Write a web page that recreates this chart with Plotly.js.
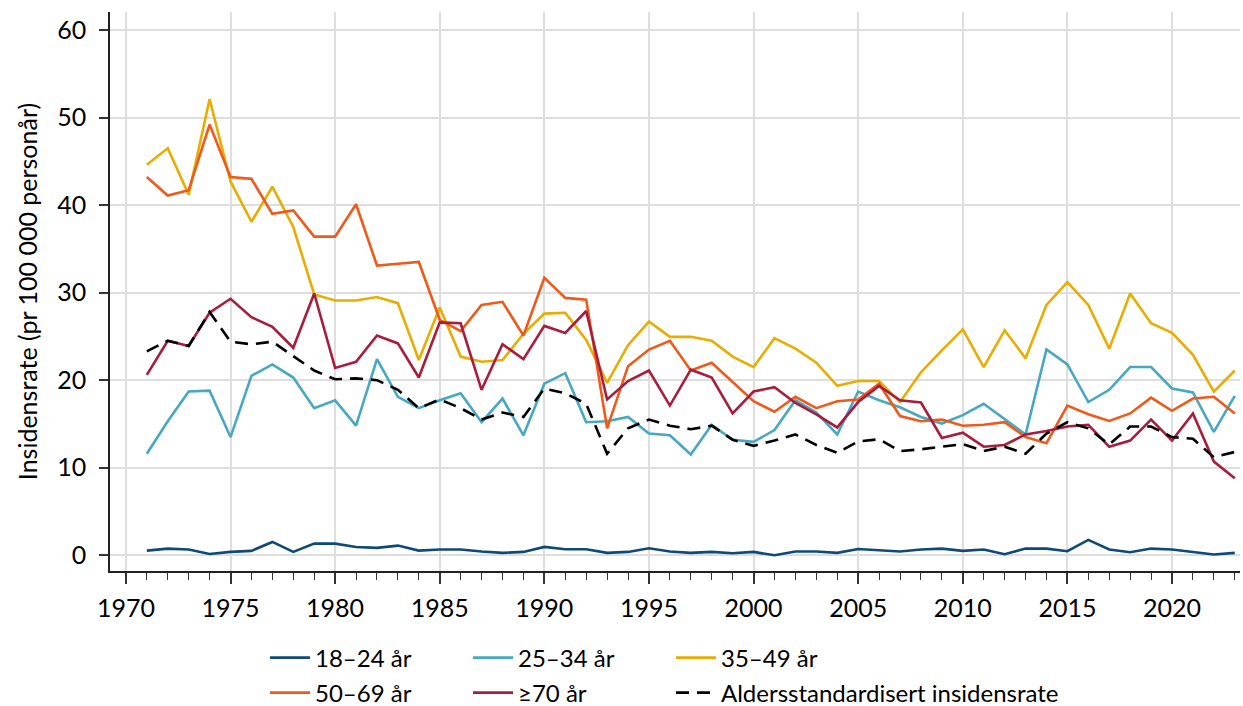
<!DOCTYPE html>
<html>
<head>
<meta charset="utf-8">
<script src="https://cdn.plot.ly/plotly-3.0.1.min.js"></script>
<style>html,body{margin:0;padding:0;background:#fff;}#chart{width:1243px;height:706px;}</style>
</head>
<body>
<div id="chart"></div>
<script>
const years = [];
for (let y = 1971; y <= 2023; y++) years.push(y);

const seriesNames = ["18–24 år", "25–34 år", "35–49 år", "50–69 år", "≥70 år", "Aldersstandardisert insidensrate"];

const age18_24 = [0.53,0.76,0.65,0.15,0.38,0.5,1.52,0.38,1.33,1.33,0.95,0.84,1.1,0.53,0.65,0.65,0.42,0.27,0.38,0.95,0.69,0.69,0.27,0.38,0.8,0.42,0.27,0.38,0.23,0.38,0.0,0.42,0.42,0.27,0.72,0.61,0.42,0.65,0.76,0.5,0.65,0.11,0.76,0.76,0.46,1.75,0.65,0.34,0.76,0.65,0.34,0.08,0.27];

const age25_34 = [11.6,15.3,18.7,18.8,13.5,20.5,21.8,20.3,16.8,17.7,14.8,22.4,18.1,16.8,17.7,18.5,15.2,17.9,13.7,19.6,20.8,15.2,15.3,15.8,13.9,13.7,11.5,14.9,13.2,12.95,14.3,17.7,16.3,13.8,18.7,17.7,16.9,15.8,15.05,16.0,17.3,15.6,13.8,23.5,21.8,17.5,18.9,21.5,21.5,19.05,18.6,14.1,18.2];

const age35_49 = [44.6,46.5,41.2,52.1,42.7,38.1,42.1,37.5,29.8,29.1,29.1,29.5,28.8,22.3,28.3,22.7,22.1,22.3,25.3,27.6,27.7,24.6,19.7,24.0,26.7,24.95,24.95,24.5,22.7,21.5,24.8,23.6,22.0,19.35,19.9,19.9,17.5,20.9,23.4,25.8,21.5,25.7,22.5,28.6,31.2,28.6,23.6,29.9,26.5,25.4,22.9,18.7,21.1];

const age50_69 = [43.2,41.1,41.7,49.2,43.2,43.0,39.0,39.4,36.4,36.4,40.1,33.1,33.3,33.5,26.9,25.6,28.6,28.95,25.1,31.7,29.4,29.2,14.5,21.6,23.5,24.5,21.1,22.0,19.8,17.6,16.4,18.1,16.8,17.6,17.8,19.6,15.9,15.3,15.5,14.8,14.9,15.2,13.5,12.8,17.1,16.1,15.35,16.2,18.0,16.5,17.9,18.1,16.2];

const age70plus = [20.6,24.5,23.9,27.7,29.3,27.2,26.1,23.7,29.9,21.4,22.1,25.1,24.2,20.3,26.6,26.5,18.9,24.1,22.4,26.2,25.4,27.9,17.8,19.9,21.1,17.1,21.2,20.3,16.2,18.7,19.2,17.4,16.1,14.6,17.5,19.35,17.7,17.45,13.4,14.0,12.4,12.6,13.8,14.2,14.7,14.9,12.4,13.1,15.5,13.1,16.2,10.7,8.8];

const ageStd = [23.3,24.5,23.9,27.8,24.4,24.1,24.4,22.7,21.1,20.1,20.2,20.0,18.9,16.8,17.8,16.8,15.5,16.3,15.8,19.05,18.5,17.3,11.6,14.5,15.5,14.8,14.4,14.8,13.2,12.5,13.1,13.8,12.6,11.7,13.0,13.25,11.9,12.1,12.4,12.7,11.9,12.4,11.6,13.9,15.2,14.5,12.65,14.7,14.7,13.5,13.3,11.2,11.8];

const xTickVals = [1970,1975,1980,1985,1990,1995,2000,2005,2010,2015,2020];
const yTickVals = [0,10,20,30,40,50,60];

const colors = ["#0d4a76","#47a8c2","#e8ad00","#ef5a1a","#a91d3c","#000000"];
const allData = [age18_24, age25_34, age35_49, age50_69, age70plus, ageStd];
const legendIds = ["legend","legend2","legend3","legend4","legend5","legend6"];

const traces = allData.map((vals, i) => ({
  x: years,
  y: vals,
  type: "scatter",
  mode: "lines",
  name: seriesNames[i],
  legend: legendIds[i],
  line: {color: colors[i], width: 2.6, dash: i === 5 ? "13px,8px" : "solid"},
  hoverinfo: "x+y+name"
}));

const fontFam = "Lato, 'Open Sans', 'DejaVu Sans', sans-serif";

function makeLegend(col, row) {
  const colX = [265, 468, 671];
  const rowY = [658, 693];
  return {
    orientation: "h",
    xref: "container", yref: "container",
    xanchor: "left", yanchor: "middle",
    x: colX[col] / 1243, y: 1 - rowY[row] / 706,
    font: {size: 24, color: "#000", family: fontFam},
    bgcolor: "rgba(0,0,0,0)",
    itemwidth: 40
  };
}

const layout = {
  width: 1243, height: 706,
  paper_bgcolor: "#fff", plot_bgcolor: "#fff",
  font: {family: fontFam, size: 25, color: "#000"},
  margin: {l: 110, r: 3, t: 12, b: 135},
  showlegend: true,
  legend: makeLegend(0, 0),
  legend2: makeLegend(1, 0),
  legend3: makeLegend(2, 0),
  legend4: makeLegend(0, 1),
  legend5: makeLegend(1, 1),
  legend6: makeLegend(2, 1),
  xaxis: {
    range: [1969.24, 2023.25],
    tickvals: xTickVals,
    ticktext: xTickVals.map(String),
    ticks: "outside", ticklen: 11, tickwidth: 1.5, tickcolor: "#333",
    ticklabelstandoff: 3,
    minor: {dtick: 1, tick0: 1970, ticks: "outside", ticklen: 7, tickwidth: 1.3, tickcolor: "#333", showgrid: false},
    showgrid: true, gridcolor: "#dedede", gridwidth: 2,
    showline: true, linecolor: "#222", linewidth: 1.5,
    zeroline: false,
    tickfont: {size: 25, family: fontFam, color: "#000"}
  },
  yaxis: {
    range: [-1.8, 62.06],
    tickvals: yTickVals,
    ticks: "outside", ticklen: 9, tickwidth: 1.5, tickcolor: "#333",
    ticklabelstandoff: 8,
    showgrid: true, gridcolor: "#dedede", gridwidth: 2,
    showline: true, linecolor: "#222", linewidth: 1.5,
    zeroline: false,
    tickfont: {size: 25, family: fontFam, color: "#000"},
    title: {text: "Insidensrate (pr 100 000 personår)", font: {size: 25, family: fontFam, color: "#000"}, standoff: 12}
  }
};

Plotly.newPlot("chart", traces, layout, {displayModeBar: false, responsive: false});
</script>
</body>
</html>
